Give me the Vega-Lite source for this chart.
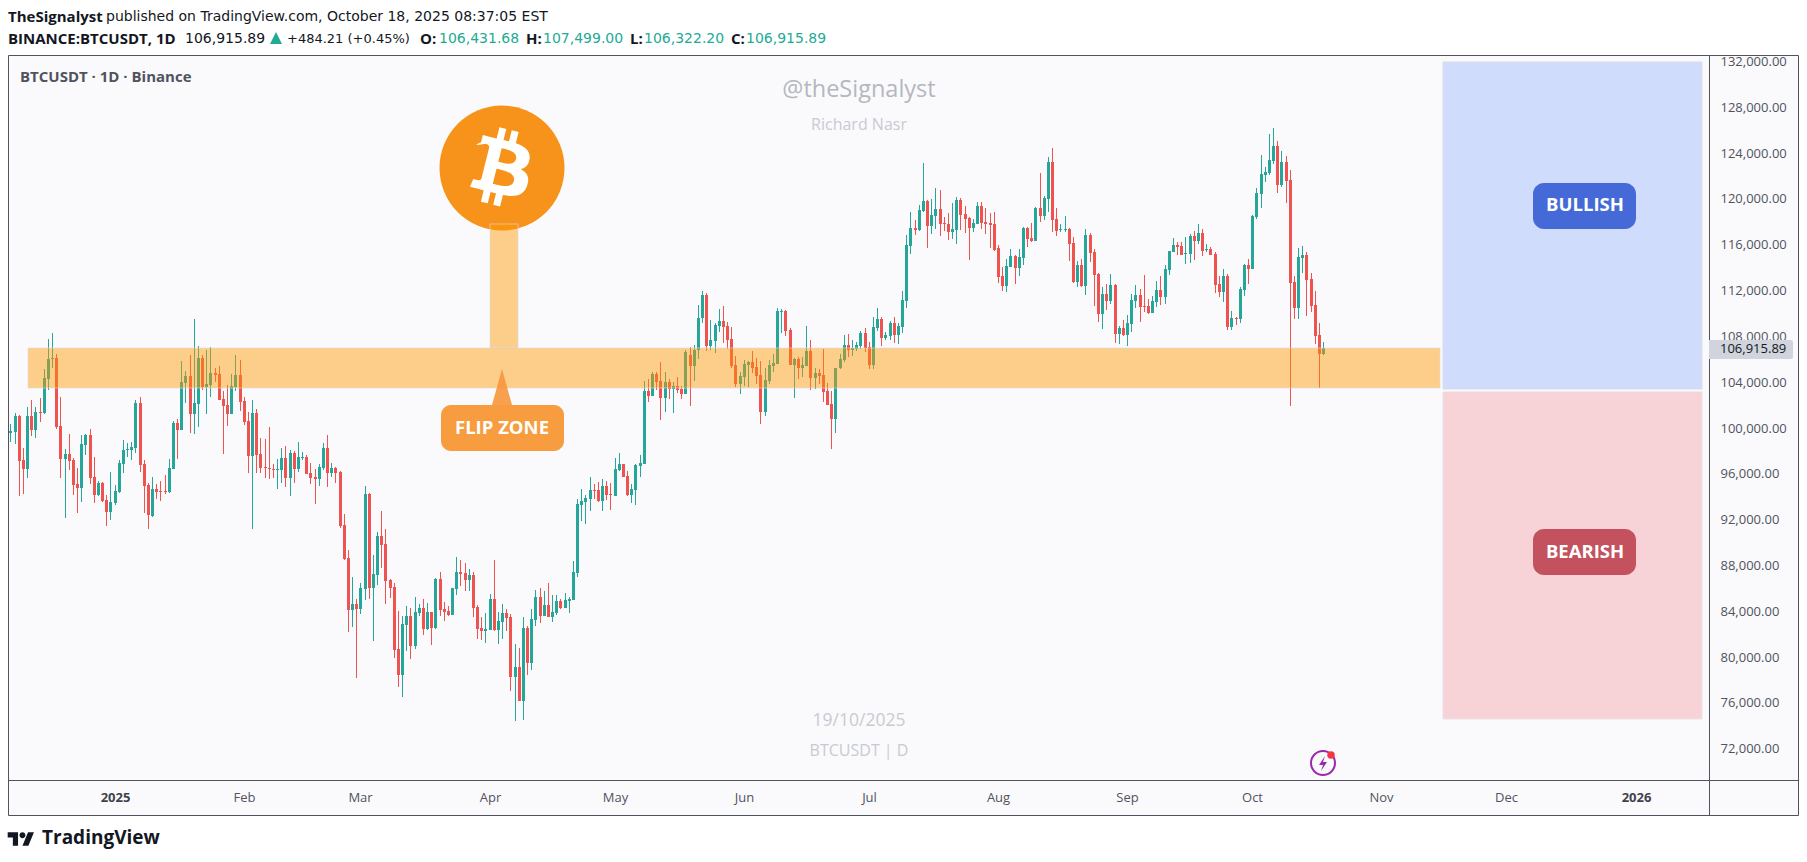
{"$schema":"https://vega.github.io/schema/vega-lite/v6.json","width":1701,"height":725,"autosize":{"type":"none"},"padding":{"left":8,"top":55,"right":98,"bottom":82},"background":"#fafafc","config":{"view":{"stroke":null},"font":"Open Sans"},
"datasets":{"candles":[
{"d":"2024-12-07","o":99525,"h":100281,"l":98710,"c":99699},
{"d":"2024-12-08","o":99612,"h":101242,"l":98564,"c":101009},
{"d":"2024-12-09","o":101009,"h":101096,"l":94025,"c":97080},
{"d":"2024-12-10","o":97168,"h":98215,"l":94199,"c":96382},
{"d":"2024-12-11","o":96382,"h":101765,"l":95596,"c":101009},
{"d":"2024-12-12","o":101009,"h":102405,"l":99263,"c":99787},
{"d":"2024-12-13","o":99787,"h":101765,"l":99088,"c":101358},
{"d":"2024-12-14","o":101358,"h":102580,"l":100485,"c":101300},
{"d":"2024-12-15","o":101271,"h":105112,"l":101183,"c":104326},
{"d":"2024-12-16","o":104239,"h":107731,"l":103278,"c":105985},
{"d":"2024-12-17","o":106014,"h":108255,"l":105199,"c":106072},
{"d":"2024-12-18","o":106072,"h":106421,"l":99874,"c":100048},
{"d":"2024-12-19","o":100136,"h":102668,"l":95596,"c":97255},
{"d":"2024-12-20","o":97255,"h":98128,"l":92104,"c":97691},
{"d":"2024-12-21","o":97691,"h":99437,"l":96295,"c":97080},
{"d":"2024-12-22","o":97168,"h":97342,"l":94112,"c":94985},
{"d":"2024-12-23","o":95072,"h":96440,"l":92512,"c":94723},
{"d":"2024-12-24","o":94723,"h":99350,"l":93501,"c":98564},
{"d":"2024-12-25","o":98477,"h":99437,"l":97604,"c":99350},
{"d":"2024-12-26","o":99350,"h":99874,"l":95072,"c":95596},
{"d":"2024-12-27","o":95683,"h":97429,"l":93414,"c":94112},
{"d":"2024-12-28","o":94112,"h":95334,"l":94025,"c":95160},
{"d":"2024-12-29","o":95160,"h":95247,"l":93501,"c":93588},
{"d":"2024-12-30","o":93676,"h":94112,"l":91435,"c":92657},
{"d":"2024-12-31","o":92657,"h":96120,"l":91930,"c":93501},
{"d":"2025-01-01","o":93414,"h":94985,"l":93239,"c":94461},
{"d":"2025-01-02","o":94374,"h":97168,"l":94287,"c":96906},
{"d":"2025-01-03","o":96818,"h":98914,"l":96033,"c":98041},
{"d":"2025-01-04","o":98041,"h":98652,"l":97429,"c":98128},
{"d":"2025-01-05","o":98041,"h":98739,"l":97168,"c":98302},
{"d":"2025-01-06","o":98215,"h":102405,"l":97779,"c":102144},
{"d":"2025-01-07","o":102144,"h":102668,"l":96120,"c":96731},
{"d":"2025-01-08","o":96818,"h":97168,"l":92541,"c":94898},
{"d":"2025-01-09","o":94985,"h":95160,"l":91144,"c":92366},
{"d":"2025-01-10","o":92279,"h":95683,"l":92191,"c":94636},
{"d":"2025-01-11","o":94636,"h":95072,"l":93763,"c":94374},
{"d":"2025-01-12","o":94461,"h":95334,"l":93588,"c":94374},
{"d":"2025-01-13","o":94461,"h":95858,"l":94228,"c":94403},
{"d":"2025-01-14","o":94374,"h":97255,"l":94287,"c":96469},
{"d":"2025-01-15","o":96382,"h":100572,"l":96382,"c":100398},
{"d":"2025-01-16","o":100398,"h":100747,"l":97255,"c":99786},
{"d":"2025-01-17","o":99786,"h":105810,"l":99786,"c":103977},
{"d":"2025-01-18","o":103890,"h":104937,"l":102144,"c":104501},
{"d":"2025-01-19","o":104501,"h":106334,"l":99525,"c":101183},
{"d":"2025-01-20","o":101183,"h":109477,"l":99437,"c":102144},
{"d":"2025-01-21","o":102056,"h":107120,"l":100048,"c":106072},
{"d":"2025-01-22","o":106072,"h":106334,"l":103279,"c":103540},
{"d":"2025-01-23","o":103540,"h":106770,"l":101183,"c":103802},
{"d":"2025-01-24","o":103715,"h":107032,"l":102667,"c":104763},
{"d":"2025-01-25","o":104763,"h":105199,"l":103977,"c":104588},
{"d":"2025-01-26","o":104675,"h":105374,"l":102406,"c":102406},
{"d":"2025-01-27","o":102493,"h":103191,"l":97691,"c":101882},
{"d":"2025-01-28","o":101969,"h":103715,"l":100136,"c":101183},
{"d":"2025-01-29","o":101183,"h":104675,"l":101183,"c":103628},
{"d":"2025-01-30","o":103540,"h":106334,"l":103191,"c":104588},
{"d":"2025-01-31","o":104588,"h":105897,"l":101445,"c":102231},
{"d":"2025-02-01","o":102318,"h":102667,"l":100223,"c":100485},
{"d":"2025-02-02","o":100572,"h":101358,"l":96033,"c":97517},
{"d":"2025-02-03","o":97517,"h":102406,"l":91144,"c":101271},
{"d":"2025-02-04","o":101271,"h":101620,"l":96033,"c":97604},
{"d":"2025-02-05","o":97691,"h":99088,"l":96033,"c":96469},
{"d":"2025-02-06","o":96556,"h":99001,"l":95596,"c":96469},
{"d":"2025-02-07","o":96469,"h":100048,"l":95509,"c":96382},
{"d":"2025-02-08","o":96382,"h":96818,"l":95596,"c":96294},
{"d":"2025-02-09","o":96294,"h":97255,"l":94636,"c":96382},
{"d":"2025-02-10","o":96294,"h":98215,"l":95160,"c":97342},
{"d":"2025-02-11","o":97342,"h":98390,"l":94810,"c":95596},
{"d":"2025-02-12","o":95596,"h":98040,"l":94025,"c":97779},
{"d":"2025-02-13","o":97779,"h":97953,"l":95160,"c":96382},
{"d":"2025-02-14","o":96382,"h":98739,"l":96120,"c":97429},
{"d":"2025-02-15","o":97342,"h":97866,"l":97168,"c":97429},
{"d":"2025-02-16","o":97429,"h":97604,"l":95945,"c":95945},
{"d":"2025-02-17","o":96033,"h":96906,"l":95072,"c":95596},
{"d":"2025-02-18","o":95683,"h":96382,"l":93326,"c":95509},
{"d":"2025-02-19","o":95509,"h":96818,"l":94898,"c":96556},
{"d":"2025-02-20","o":96469,"h":98652,"l":96294,"c":98215},
{"d":"2025-02-21","o":98215,"h":99350,"l":94810,"c":96033},
{"d":"2025-02-22","o":96033,"h":96906,"l":95683,"c":96469},
{"d":"2025-02-23","o":96469,"h":96556,"l":95160,"c":96033},
{"d":"2025-02-24","o":96120,"h":96207,"l":91231,"c":91406},
{"d":"2025-02-25","o":91493,"h":92453,"l":88437,"c":88525},
{"d":"2025-02-26","o":88612,"h":89310,"l":82151,"c":84072},
{"d":"2025-02-27","o":84072,"h":86953,"l":82588,"c":84596},
{"d":"2025-02-28","o":84596,"h":85032,"l":78136,"c":84159},
{"d":"2025-03-01","o":84159,"h":86429,"l":83723,"c":85993},
{"d":"2025-03-02","o":85905,"h":94897,"l":84945,"c":94199},
{"d":"2025-03-03","o":94199,"h":94286,"l":85032,"c":85993},
{"d":"2025-03-04","o":85993,"h":88873,"l":81366,"c":87215},
{"d":"2025-03-05","o":87127,"h":90881,"l":86254,"c":90532},
{"d":"2025-03-06","o":90532,"h":92715,"l":87739,"c":89746},
{"d":"2025-03-07","o":89834,"h":91143,"l":84596,"c":86604},
{"d":"2025-03-08","o":86691,"h":86778,"l":85120,"c":85993},
{"d":"2025-03-09","o":86080,"h":86429,"l":79882,"c":80580},
{"d":"2025-03-10","o":80667,"h":83985,"l":77350,"c":78397},
{"d":"2025-03-11","o":78397,"h":83548,"l":76477,"c":82850},
{"d":"2025-03-12","o":82762,"h":84421,"l":80493,"c":83548},
{"d":"2025-03-13","o":83548,"h":84247,"l":79794,"c":80929},
{"d":"2025-03-14","o":80929,"h":85207,"l":80667,"c":83897},
{"d":"2025-03-15","o":83810,"h":84596,"l":83548,"c":84247},
{"d":"2025-03-16","o":84247,"h":85032,"l":81889,"c":82413},
{"d":"2025-03-17","o":82413,"h":84683,"l":82326,"c":83897},
{"d":"2025-03-18","o":83897,"h":83897,"l":81017,"c":82501},
{"d":"2025-03-19","o":82501,"h":86866,"l":82413,"c":86778},
{"d":"2025-03-20","o":86778,"h":87389,"l":83548,"c":84072},
{"d":"2025-03-21","o":84159,"h":84770,"l":83112,"c":83897},
{"d":"2025-03-22","o":83985,"h":84421,"l":83548,"c":83635},
{"d":"2025-03-23","o":83635,"h":85993,"l":83635,"c":85993},
{"d":"2025-03-24","o":85905,"h":88699,"l":85381,"c":87389},
{"d":"2025-03-25","o":87389,"h":88437,"l":86167,"c":87215},
{"d":"2025-03-26","o":87302,"h":88175,"l":85731,"c":86691},
{"d":"2025-03-27","o":86691,"h":87651,"l":85731,"c":87127},
{"d":"2025-03-28","o":87127,"h":87389,"l":83461,"c":84247},
{"d":"2025-03-29","o":84334,"h":84509,"l":81540,"c":82413},
{"d":"2025-03-30","o":82501,"h":83461,"l":81453,"c":82239},
{"d":"2025-03-31","o":82239,"h":83810,"l":81191,"c":82413},
{"d":"2025-04-01","o":82326,"h":85469,"l":82326,"c":85032},
{"d":"2025-04-02","o":85032,"h":88437,"l":82239,"c":82326},
{"d":"2025-04-03","o":82326,"h":83897,"l":81104,"c":83112},
{"d":"2025-04-04","o":83024,"h":84596,"l":81540,"c":83810},
{"d":"2025-04-05","o":83810,"h":84159,"l":82239,"c":83373},
{"d":"2025-04-06","o":83461,"h":83723,"l":77001,"c":78223},
{"d":"2025-04-07","o":78223,"h":81104,"l":74382,"c":79096},
{"d":"2025-04-08","o":79096,"h":80755,"l":76128,"c":76128},
{"d":"2025-04-09","o":76128,"h":83461,"l":74469,"c":82501},
{"d":"2025-04-10","o":82501,"h":82675,"l":78398,"c":79445},
{"d":"2025-04-11","o":79445,"h":84159,"l":78834,"c":83286},
{"d":"2025-04-12","o":83199,"h":85818,"l":82675,"c":85207},
{"d":"2025-04-13","o":85207,"h":85993,"l":82937,"c":83548},
{"d":"2025-04-14","o":83548,"h":85731,"l":83548,"c":84508},
{"d":"2025-04-15","o":84508,"h":86429,"l":83461,"c":83461},
{"d":"2025-04-16","o":83461,"h":85381,"l":83024,"c":83897},
{"d":"2025-04-17","o":83810,"h":85381,"l":83636,"c":84858},
{"d":"2025-04-18","o":84858,"h":85032,"l":84159,"c":84247},
{"d":"2025-04-19","o":84247,"h":85556,"l":84247,"c":84945},
{"d":"2025-04-20","o":84858,"h":85207,"l":83810,"c":85032},
{"d":"2025-04-21","o":84945,"h":88350,"l":84945,"c":87389},
{"d":"2025-04-22","o":87302,"h":93762,"l":86953,"c":93326},
{"d":"2025-04-23","o":93238,"h":94635,"l":91842,"c":93588},
{"d":"2025-04-24","o":93500,"h":94112,"l":91580,"c":93850},
{"d":"2025-04-25","o":93762,"h":95683,"l":92715,"c":94548},
{"d":"2025-04-26","o":94548,"h":95072,"l":93762,"c":94461},
{"d":"2025-04-27","o":94548,"h":95247,"l":93500,"c":93588},
{"d":"2025-04-28","o":93588,"h":95508,"l":92715,"c":94897},
{"d":"2025-04-29","o":94897,"h":95334,"l":93675,"c":94112},
{"d":"2025-04-30","o":94199,"h":95159,"l":92802,"c":94112},
{"d":"2025-05-01","o":94024,"h":97342,"l":94024,"c":96381},
{"d":"2025-05-02","o":96294,"h":97778,"l":96207,"c":96818},
{"d":"2025-05-03","o":96818,"h":96818,"l":95683,"c":95683},
{"d":"2025-05-04","o":95770,"h":96207,"l":94024,"c":94112},
{"d":"2025-05-05","o":94112,"h":95072,"l":93413,"c":94635},
{"d":"2025-05-06","o":94548,"h":96818,"l":93238,"c":96730},
{"d":"2025-05-07","o":96643,"h":97604,"l":95683,"c":96905},
{"d":"2025-05-08","o":96818,"h":104064,"l":96818,"c":103191},
{"d":"2025-05-09","o":103191,"h":104238,"l":102230,"c":102754},
{"d":"2025-05-10","o":102754,"h":104849,"l":102754,"c":104675},
{"d":"2025-05-11","o":104675,"h":104849,"l":103278,"c":103976},
{"d":"2025-05-12","o":104064,"h":105722,"l":100659,"c":102580},
{"d":"2025-05-13","o":102580,"h":104849,"l":101357,"c":103976},
{"d":"2025-05-14","o":103976,"h":104238,"l":102492,"c":103365},
{"d":"2025-05-15","o":103365,"h":103976,"l":101270,"c":103627},
{"d":"2025-05-16","o":103627,"h":104413,"l":103016,"c":103278},
{"d":"2025-05-17","o":103365,"h":103627,"l":102492,"c":102929},
{"d":"2025-05-18","o":102929,"h":106771,"l":102929,"c":106596},
{"d":"2025-05-19","o":106334,"h":107032,"l":101882,"c":105374},
{"d":"2025-05-20","o":105374,"h":107207,"l":104064,"c":106771},
{"d":"2025-05-21","o":106771,"h":110699,"l":105985,"c":109564},
{"d":"2025-05-22","o":109564,"h":111921,"l":109128,"c":111572},
{"d":"2025-05-23","o":111572,"h":111747,"l":106683,"c":107120},
{"d":"2025-05-24","o":107120,"h":109390,"l":106771,"c":107644},
{"d":"2025-05-25","o":107556,"h":109128,"l":106509,"c":108953},
{"d":"2025-05-26","o":108866,"h":110350,"l":108342,"c":109302},
{"d":"2025-05-27","o":109302,"h":110612,"l":107382,"c":108778},
{"d":"2025-05-28","o":108866,"h":109215,"l":106858,"c":107644},
{"d":"2025-05-29","o":107731,"h":108778,"l":105199,"c":105374},
{"d":"2025-05-30","o":105461,"h":106247,"l":103540,"c":103802},
{"d":"2025-05-31","o":103802,"h":104850,"l":102929,"c":104501},
{"d":"2025-06-01","o":104413,"h":105897,"l":103628,"c":105548},
{"d":"2025-06-02","o":105461,"h":105810,"l":103540,"c":105723},
{"d":"2025-06-03","o":105723,"h":106683,"l":104763,"c":105199},
{"d":"2025-06-04","o":105286,"h":106072,"l":103802,"c":104501},
{"d":"2025-06-05","o":104588,"h":105810,"l":100310,"c":101358},
{"d":"2025-06-06","o":101358,"h":105199,"l":101009,"c":104151},
{"d":"2025-06-07","o":104064,"h":105897,"l":103802,"c":105461},
{"d":"2025-06-08","o":105374,"h":106421,"l":104850,"c":105636},
{"d":"2025-06-09","o":105548,"h":110437,"l":105548,"c":110175},
{"d":"2025-06-10","o":110088,"h":110350,"l":108255,"c":110175},
{"d":"2025-06-11","o":110175,"h":110262,"l":107993,"c":108429},
{"d":"2025-06-12","o":108517,"h":108691,"l":105461,"c":105461},
{"d":"2025-06-13","o":105461,"h":106072,"l":102580,"c":105985},
{"d":"2025-06-14","o":105985,"h":106159,"l":104239,"c":105199},
{"d":"2025-06-15","o":105199,"h":106159,"l":104413,"c":105461},
{"d":"2025-06-16","o":105374,"h":108866,"l":105374,"c":106683},
{"d":"2025-06-17","o":106683,"h":107644,"l":103279,"c":104326},
{"d":"2025-06-18","o":104326,"h":105199,"l":103366,"c":104763},
{"d":"2025-06-19","o":104763,"h":105112,"l":103802,"c":104501},
{"d":"2025-06-20","o":104588,"h":106858,"l":102231,"c":103104},
{"d":"2025-06-21","o":103191,"h":103890,"l":101969,"c":101969},
{"d":"2025-06-22","o":102056,"h":103191,"l":98128,"c":100747},
{"d":"2025-06-23","o":100747,"h":105199,"l":99525,"c":105199},
{"d":"2025-06-24","o":105199,"h":106421,"l":105112,"c":105985},
{"d":"2025-06-25","o":105897,"h":108080,"l":105723,"c":107207},
{"d":"2025-06-26","o":107207,"h":108167,"l":106159,"c":106771},
{"d":"2025-06-27","o":106771,"h":107644,"l":106247,"c":106945},
{"d":"2025-06-28","o":106858,"h":107469,"l":106683,"c":107207},
{"d":"2025-06-29","o":107120,"h":108429,"l":106858,"c":108255},
{"d":"2025-06-30","o":108255,"h":108691,"l":106596,"c":106945},
{"d":"2025-07-01","o":107032,"h":107469,"l":105112,"c":105461},
{"d":"2025-07-02","o":105461,"h":109651,"l":105112,"c":108778},
{"d":"2025-07-03","o":108691,"h":110437,"l":108429,"c":109477},
{"d":"2025-07-04","o":109477,"h":109651,"l":107120,"c":107818},
{"d":"2025-07-05","o":107818,"h":108342,"l":107644,"c":108080},
{"d":"2025-07-06","o":107993,"h":109302,"l":107644,"c":109128},
{"d":"2025-07-07","o":109128,"h":109651,"l":107382,"c":108080},
{"d":"2025-07-08","o":108080,"h":109128,"l":107294,"c":108866},
{"d":"2025-07-09","o":108778,"h":111921,"l":108255,"c":111136},
{"d":"2025-07-10","o":111048,"h":116810,"l":110437,"c":115937},
{"d":"2025-07-11","o":115850,"h":118818,"l":115151,"c":117421},
{"d":"2025-07-12","o":117421,"h":118120,"l":116810,"c":117247},
{"d":"2025-07-13","o":117247,"h":119429,"l":117159,"c":118993},
{"d":"2025-07-14","o":118905,"h":123096,"l":118818,"c":119778},
{"d":"2025-07-15","o":119778,"h":119865,"l":115675,"c":117596},
{"d":"2025-07-16","o":117596,"h":119953,"l":116897,"c":118556},
{"d":"2025-07-17","o":118469,"h":120913,"l":117334,"c":119080},
{"d":"2025-07-18","o":119080,"h":120738,"l":116723,"c":117770},
{"d":"2025-07-19","o":117858,"h":118381,"l":117159,"c":117770},
{"d":"2025-07-20","o":117770,"h":118731,"l":116373,"c":117072},
{"d":"2025-07-21","o":117072,"h":119604,"l":116461,"c":117334},
{"d":"2025-07-22","o":117247,"h":120127,"l":116024,"c":119865},
{"d":"2025-07-23","o":119865,"h":120040,"l":117247,"c":118556},
{"d":"2025-07-24","o":118643,"h":119342,"l":116985,"c":118207},
{"d":"2025-07-25","o":118294,"h":118381,"l":114627,"c":117421},
{"d":"2025-07-26","o":117421,"h":118207,"l":117072,"c":117858},
{"d":"2025-07-27","o":117770,"h":119691,"l":117770,"c":119342},
{"d":"2025-07-28","o":119342,"h":119691,"l":117334,"c":117858},
{"d":"2025-07-29","o":117945,"h":119167,"l":116897,"c":117770},
{"d":"2025-07-30","o":117858,"h":118731,"l":115675,"c":117683},
{"d":"2025-07-31","o":117770,"h":118818,"l":115413,"c":115500},
{"d":"2025-08-01","o":115675,"h":115937,"l":112620,"c":113143},
{"d":"2025-08-02","o":113231,"h":114016,"l":111921,"c":112358},
{"d":"2025-08-03","o":112358,"h":114715,"l":111834,"c":114104},
{"d":"2025-08-04","o":114016,"h":115588,"l":114016,"c":114977},
{"d":"2025-08-05","o":114977,"h":115064,"l":112532,"c":113929},
{"d":"2025-08-06","o":113929,"h":115588,"l":113231,"c":114889},
{"d":"2025-08-07","o":114802,"h":117508,"l":114191,"c":117421},
{"d":"2025-08-08","o":117421,"h":117508,"l":115762,"c":116460},
{"d":"2025-08-09","o":116548,"h":117857,"l":116198,"c":116286},
{"d":"2025-08-10","o":116286,"h":119254,"l":116286,"c":119167},
{"d":"2025-08-11","o":119167,"h":122222,"l":117944,"c":118468},
{"d":"2025-08-12","o":118468,"h":120214,"l":118119,"c":120040},
{"d":"2025-08-13","o":119952,"h":123619,"l":118817,"c":123182},
{"d":"2025-08-14","o":123182,"h":124405,"l":117071,"c":118119},
{"d":"2025-08-15","o":118206,"h":119167,"l":116722,"c":117159},
{"d":"2025-08-16","o":117246,"h":117770,"l":117071,"c":117333},
{"d":"2025-08-17","o":117246,"h":118468,"l":117071,"c":117333},
{"d":"2025-08-18","o":117333,"h":117421,"l":114540,"c":116024},
{"d":"2025-08-19","o":116111,"h":116635,"l":112619,"c":112706},
{"d":"2025-08-20","o":112706,"h":114540,"l":112270,"c":114190},
{"d":"2025-08-21","o":114190,"h":114714,"l":112270,"c":112357},
{"d":"2025-08-22","o":112357,"h":117333,"l":111571,"c":116810},
{"d":"2025-08-23","o":116810,"h":116984,"l":114452,"c":115238},
{"d":"2025-08-24","o":115325,"h":115587,"l":110611,"c":113318},
{"d":"2025-08-25","o":113405,"h":113492,"l":109214,"c":109913},
{"d":"2025-08-26","o":109913,"h":112270,"l":108603,"c":111659},
{"d":"2025-08-27","o":111659,"h":112532,"l":110262,"c":111048},
{"d":"2025-08-28","o":111048,"h":113405,"l":110786,"c":112444},
{"d":"2025-08-29","o":112444,"h":112532,"l":107381,"c":108167},
{"d":"2025-08-30","o":108167,"h":108865,"l":107294,"c":108691},
{"d":"2025-08-31","o":108691,"h":109389,"l":107992,"c":108079},
{"d":"2025-09-01","o":108079,"h":109826,"l":107119,"c":109127},
{"d":"2025-09-02","o":109040,"h":111659,"l":108341,"c":111135},
{"d":"2025-09-03","o":111048,"h":112444,"l":110437,"c":111571},
{"d":"2025-09-04","o":111571,"h":112095,"l":109214,"c":110524},
{"d":"2025-09-05","o":110611,"h":113318,"l":110087,"c":110524},
{"d":"2025-09-06","o":110611,"h":111222,"l":109913,"c":110000},
{"d":"2025-09-07","o":110000,"h":111484,"l":110000,"c":111048},
{"d":"2025-09-08","o":110960,"h":112794,"l":110524,"c":112008},
{"d":"2025-09-09","o":112008,"h":113230,"l":110698,"c":111397},
{"d":"2025-09-10","o":111397,"h":114190,"l":110786,"c":113841},
{"d":"2025-09-11","o":113754,"h":115413,"l":113318,"c":115413},
{"d":"2025-09-12","o":115325,"h":116548,"l":115325,"c":115936},
{"d":"2025-09-13","o":115936,"h":116198,"l":115063,"c":115762},
{"d":"2025-09-14","o":115849,"h":116198,"l":115063,"c":115063},
{"d":"2025-09-15","o":115151,"h":116635,"l":114278,"c":115238},
{"d":"2025-09-16","o":115151,"h":116897,"l":114365,"c":116722},
{"d":"2025-09-17","o":116722,"h":117159,"l":114627,"c":116286},
{"d":"2025-09-18","o":116286,"h":117770,"l":116024,"c":116985},
{"d":"2025-09-19","o":116985,"h":117334,"l":114977,"c":115413},
{"d":"2025-09-20","o":115501,"h":116024,"l":115326,"c":115588},
{"d":"2025-09-21","o":115588,"h":115762,"l":115064,"c":115064},
{"d":"2025-09-22","o":115151,"h":115326,"l":111747,"c":112445},
{"d":"2025-09-23","o":112532,"h":113231,"l":111397,"c":111834},
{"d":"2025-09-24","o":111834,"h":113842,"l":110961,"c":113231},
{"d":"2025-09-25","o":113231,"h":113405,"l":108516,"c":108778},
{"d":"2025-09-26","o":108778,"h":110175,"l":108516,"c":109564},
{"d":"2025-09-27","o":109564,"h":109651,"l":108953,"c":109477},
{"d":"2025-09-28","o":109477,"h":112270,"l":109128,"c":112096},
{"d":"2025-09-29","o":112008,"h":114278,"l":111485,"c":114191},
{"d":"2025-09-30","o":114191,"h":114715,"l":112532,"c":113842},
{"d":"2025-10-01","o":113842,"h":118556,"l":113842,"c":118469},
{"d":"2025-10-02","o":118381,"h":120913,"l":118207,"c":120477},
{"d":"2025-10-03","o":120389,"h":123794,"l":119167,"c":122135},
{"d":"2025-10-04","o":122048,"h":122746,"l":121437,"c":122310},
{"d":"2025-10-05","o":122223,"h":125627,"l":122048,"c":123357},
{"d":"2025-10-06","o":123270,"h":126151,"l":123008,"c":124580},
{"d":"2025-10-07","o":124580,"h":125016,"l":120477,"c":121175},
{"d":"2025-10-08","o":121175,"h":124143,"l":121000,"c":123183},
{"d":"2025-10-09","o":123183,"h":123707,"l":119604,"c":121524},
{"d":"2025-10-10","o":121612,"h":122485,"l":101882,"c":112620},
{"d":"2025-10-11","o":112707,"h":113231,"l":109477,"c":110437},
{"d":"2025-10-12","o":110437,"h":115675,"l":109477,"c":114889},
{"d":"2025-10-13","o":114802,"h":115850,"l":113493,"c":115064},
{"d":"2025-10-14","o":115064,"h":115326,"l":109739,"c":112881},
{"d":"2025-10-15","o":112969,"h":113493,"l":110088,"c":110612},
{"d":"2025-10-16","o":110699,"h":111921,"l":107295,"c":107993},
{"d":"2025-10-17","o":108080,"h":109128,"l":103453,"c":106432},
{"d":"2025-10-18","o":106431.68,"h":107499,"l":106322.2,"c":106915.89}
]},
"layer":[
{"data":{"values":[{"d":"2024-12-01","d2":"2026-03-01","p":132524,"p2":140000},{"d":"2024-12-01","d2":"2026-03-01","p":66176,"p2":60000},{"d":"2024-12-01","d2":"2024-12-06T10:30:00Z","p":60000,"p2":140000},{"d":"2026-02-09","d2":"2026-03-01","p":60000,"p2":140000}]},
"mark":{"type":"rect","fill":"#ffffff"},
"encoding":{"x":{"field":"d","type":"temporal","title":null,"scale":{"type":"utc","domain":["2024-12-06T10:30:00Z","2026-01-18T15:00:00Z"],"round":true,"padding":0},
"axis":{"orient":"bottom","title":null,"grid":false,"domain":false,"ticks":false,"labelOverlap":false,"labelFlush":false,"labelBaseline":"middle","labelPadding":17,"labelFont":"Open Sans","labelFontSize":13,"labelColor":{"condition":{"test":"utcmonth(datum.value)==0","value":"#3f424c"},"value":"#50535e"},"labelFontWeight":{"condition":{"test":"utcmonth(datum.value)==0","value":"bold"},"value":"normal"},
"values":[{"year":2025,"month":1,"date":1,"utc":true},{"year":2025,"month":2,"date":1,"utc":true},{"year":2025,"month":3,"date":1,"utc":true},{"year":2025,"month":4,"date":1,"utc":true},{"year":2025,"month":5,"date":1,"utc":true},{"year":2025,"month":6,"date":1,"utc":true},{"year":2025,"month":7,"date":1,"utc":true},{"year":2025,"month":8,"date":1,"utc":true},{"year":2025,"month":9,"date":1,"utc":true},{"year":2025,"month":10,"date":1,"utc":true},{"year":2025,"month":11,"date":1,"utc":true},{"year":2025,"month":12,"date":1,"utc":true},{"year":2026,"month":1,"date":1,"utc":true}],
"labelExpr":"utcmonth(datum.value)==0 ? utcFormat(datum.value,'%Y') : utcFormat(datum.value,'%b')"}},
"x2":{"field":"d2"},
"y":{"field":"p","type":"quantitative","title":null,"scale":{"domain":[69233,132524],"zero":false,"nice":false,"round":true,"padding":0},
"axis":{"orient":"right","title":null,"grid":false,"domain":false,"ticks":false,"labelAlign":"left","labelBaseline":"middle","labelPadding":11,"labelFont":"Open Sans","labelFontSize":13,"labelColor":"#50535e","labelOverlap":false,"labelFlush":false,"format":",.2f","values":[72000,76000,80000,84000,88000,92000,96000,100000,104000,108000,112000,116000,120000,124000,128000,132000]}},
"y2":{"field":"p2"}}},
{"data":{"values":[{"d":"2025-11-15T19:00:00Z","d2":"2026-01-16T22:00:00Z","p":131913,"p2":103339,"zone":"bullish"}]},"mark":{"type":"rect","fill":"#d0dcfc","stroke":"#d9dde8","strokeWidth":1},"encoding":{"x":{"field":"d","type":"temporal"},"x2":{"field":"d2"},"y":{"field":"p","type":"quantitative"},"y2":{"field":"p2"}}},
{"data":{"values":[{"d":"2025-11-15T19:00:00Z","d2":"2026-01-16T22:00:00Z","p":103078,"p2":74530,"zone":"bearish"}]},"mark":{"type":"rect","fill":"#f7d3d8","stroke":"#e8dfe6","strokeWidth":1},"encoding":{"x":{"field":"d","type":"temporal"},"x2":{"field":"d2"},"y":{"field":"p","type":"quantitative"},"y2":{"field":"p2"}}},
{"data":{"name":"candles"},"mark":{"type":"rule","strokeWidth":1,"xOffset":0.5,"x2Offset":0.5},"encoding":{"x":{"field":"d","type":"temporal"},"y":{"field":"l","type":"quantitative"},"y2":{"field":"h"},"color":{"condition":{"test":"datum.c>=datum.o","value":"#26a69a"},"value":"#ef5350"}}},
{"data":{"name":"candles"},"mark":{"type":"bar","size":3,"xOffset":0.5},"encoding":{"x":{"field":"d","type":"temporal"},"y":{"field":"o","type":"quantitative"},"y2":{"field":"c"},"color":{"condition":{"test":"datum.c>=datum.o","value":"#26a69a"},"value":"#ef5350"}}},
{"data":{"values":[{"d":"2025-04-03T22:00:00Z","p":122633}]},"mark":{"type":"point","shape":"circle","filled":true,"size":15625,"color":"#f7931a","opacity":1},"encoding":{"x":{"field":"d","type":"temporal"},"y":{"field":"p","type":"quantitative"}}},
{"data":{"values":[{"d":"2025-04-03T22:00:00Z","p":122633}]},"mark":{"type":"point","shape":"M14.11 -4.559c.636-4.258-2.606-6.547-7.039-8.074l1.438-5.768-3.512-.875-1.4 5.616c-.922-.23-1.87-.447-2.812-.662l1.41-5.653-3.509-.875-1.439 5.766c-.764-.174-1.514-.346-2.242-.527l.004-.018-4.842-1.209-.934 3.75s2.605.597 2.55.634c1.422.355 1.68 1.296 1.636 2.042l-1.638 6.571c.098.025.225.061.365.117l-.37-.092-2.297 9.205c-.174.432-.615 1.08-1.609.834.035.051-2.552-.637-2.552-.637l-1.743 4.02 4.57 1.139c.85.213 1.683.436 2.502.646l-1.453 5.835 3.507.875 1.44-5.772c.957.26 1.887.5 2.797.726L-4.496 18.8l3.511.875 1.453-5.823c5.987 1.133 10.49.676 12.383-4.738 1.527-4.36-.075-6.875-3.225-8.516 2.294-.531 4.022-2.04 4.483-5.157zM6.087 6.69c-1.086 4.36-8.426 2.004-10.807 1.412l1.928-7.729c2.38.594 10.011 1.77 8.88 6.317zm1.085-11.312c-.99 3.966-7.1 1.951-9.083 1.457l1.748-7.01c1.983.494 8.367 1.416 7.335 5.553z","filled":true,"size":15.26,"color":"#ffffff","opacity":1},"encoding":{"x":{"field":"d","type":"temporal"},"y":{"field":"p","type":"quantitative"}}},
{"data":{"values":[{"d":"2025-04-01T01:00:00Z","d2":"2025-04-07T22:00:00Z","p":117770,"p2":106916},{"d":"2024-12-11T03:00:00Z","d2":"2025-11-15","p":106916,"p2":103420}]},"mark":{"type":"rect","fill":"#ff9800","fillOpacity":0.45,"stroke":"#d9dbe3","strokeWidth":1,"strokeOpacity":0.6},"encoding":{"x":{"field":"d","type":"temporal"},"x2":{"field":"d2"},"y":{"field":"p","type":"quantitative"},"y2":{"field":"p2"}}},
{"data":{"values":[{"d":"2025-04-03T22:00:00Z","p":101969}]},"mark":{"type":"point","shape":"M0 -36L10 0L-10 0Z","filled":true,"size":4,"color":"#f7963a","opacity":0.9},"encoding":{"x":{"field":"d","type":"temporal"},"y":{"field":"p","type":"quantitative"}}},
{"data":{"values":[{"d":"2025-03-20T09:00:00Z","d2":"2025-04-18T18:00:00Z","p":101969,"p2":97979}]},"mark":{"type":"rect","fill":"#f79c3f","cornerRadius":10},"encoding":{"x":{"field":"d","type":"temporal"},"x2":{"field":"d2"},"y":{"field":"p","type":"quantitative"},"y2":{"field":"p2"}}},
{"data":{"values":[{"d":"2025-12-07T12:00:00Z","d2":"2026-01-01T02:00:00Z","p":121349,"p2":117360}]},"mark":{"type":"rect","fill":"#4669d8","cornerRadius":11},"encoding":{"x":{"field":"d","type":"temporal"},"x2":{"field":"d2"},"y":{"field":"p","type":"quantitative"},"y2":{"field":"p2"}}},
{"data":{"values":[{"d":"2025-12-07T12:00:00Z","d2":"2026-01-01T02:00:00Z","p":91117,"p2":87128}]},"mark":{"type":"rect","fill":"#c4525e","cornerRadius":11},"encoding":{"x":{"field":"d","type":"temporal"},"x2":{"field":"d2"},"y":{"field":"p","type":"quantitative"},"y2":{"field":"p2"}}},
{"data":{"values":[{"d":"2025-04-03T22:00:00Z","p":99961,"t":"FLIP ZONE"},{"d":"2025-12-19T19:00:00Z","p":119429,"t":"BULLISH"},{"d":"2025-12-19T19:00:00Z","p":89135,"t":"BEARISH"}]},"mark":{"type":"text","font":"Open Sans","fontSize":18.5,"fontWeight":"bold","color":"#ffffff","align":"center","baseline":"middle"},"encoding":{"x":{"field":"d","type":"temporal"},"y":{"field":"p","type":"quantitative"},"text":{"field":"t"}}},
{"data":{"values":[{"d":"2024-12-06T10:30:00Z","d2":"2026-02-09","p":132524,"p2":66176}]},"mark":{"type":"rect","fill":"transparent","stroke":"#50535e","strokeWidth":1,"xOffset":0.5,"x2Offset":0.5,"yOffset":0.5,"y2Offset":0.5},"encoding":{"x":{"field":"d","type":"temporal"},"x2":{"field":"d2"},"y":{"field":"p","type":"quantitative"},"y2":{"field":"p2"}}},
{"data":{"values":[{"d":"2024-12-06T10:30:00Z","d2":"2026-02-09","p":69233,"p2":69233},{"d":"2026-01-18T15:00:00Z","d2":"2026-01-18T15:00:00Z","p":132524,"p2":66176}]},"mark":{"type":"rule","stroke":"#50535e","strokeWidth":1,"xOffset":0.5,"x2Offset":0.5,"yOffset":0.5,"y2Offset":0.5},"encoding":{"x":{"field":"d","type":"temporal"},"x2":{"field":"d2"},"y":{"field":"p","type":"quantitative"},"y2":{"field":"p2"}}},
{"data":{"values":[{"d":"2026-01-18T15:00:00Z","d2":"2026-02-07T17:00:00Z","p":107643,"p2":105985}]},"mark":{"type":"rect","fill":"#d1d4dc","cornerRadiusTopRight":2,"cornerRadiusBottomRight":2},"encoding":{"x":{"field":"d","type":"temporal"},"x2":{"field":"d2"},"y":{"field":"p","type":"quantitative"},"y2":{"field":"p2"}}},
{"data":{"values":[{"d":"2026-01-21T05:00:00Z","p":106860,"t":"106,915.89"}]},"mark":{"type":"text","font":"Open Sans","fontSize":13,"color":"#131722","align":"left","baseline":"middle"},"encoding":{"x":{"field":"d","type":"temporal"},"y":{"field":"p","type":"quantitative"},"text":{"field":"t"}}},
{"data":{"values":[{"d":"2024-12-06T10:30:00Z","p":135867,"t":"TheSignalyst"},{"d":"2024-12-06T10:30:00Z","p":133947,"t":"BINANCE:BTCUSDT, 1D"},{"d":"2025-03-15T07:00:00Z","p":133947,"t":"O:"},{"d":"2025-04-09T18:00:00Z","p":133947,"t":"H:"},{"d":"2025-05-04T17:00:00Z","p":133947,"t":"L:"},{"d":"2025-05-28T23:00:00Z","p":133947,"t":"C:"}]},"mark":{"type":"text","font":"Open Sans","fontSize":15,"fontWeight":"bold","color":"#131722","align":"left","baseline":"middle"},"encoding":{"x":{"field":"d","type":"temporal"},"y":{"field":"p","type":"quantitative"},"text":{"field":"t"}}},
{"data":{"values":[{"d":"2024-12-29T23:00:00Z","p":135867,"t":"published on TradingView.com, October 18, 2025 08:37:05 EST"},{"d":"2025-01-17T22:00:00Z","p":133947,"t":"106,915.89"}]},"mark":{"type":"text","font":"DejaVu Sans","fontSize":14,"color":"#131722","align":"left","baseline":"middle"},"encoding":{"x":{"field":"d","type":"temporal"},"y":{"field":"p","type":"quantitative"},"text":{"field":"t"}}},
{"data":{"values":[{"d":"2025-02-11T10:00:00Z","p":133947,"t":"+484.21 (+0.45%)"}]},"mark":{"type":"text","font":"DejaVu Sans","fontSize":13,"color":"#131722","align":"left","baseline":"middle"},"encoding":{"x":{"field":"d","type":"temporal"},"y":{"field":"p","type":"quantitative"},"text":{"field":"t"}}},
{"data":{"values":[{"d":"2025-03-19T21:00:00Z","p":133947,"t":"106,431.68"},{"d":"2025-04-13T17:00:00Z","p":133947,"t":"107,499.00"},{"d":"2025-05-07T23:00:00Z","p":133947,"t":"106,322.20"},{"d":"2025-06-01T13:00:00Z","p":133947,"t":"106,915.89"}]},"mark":{"type":"text","font":"DejaVu Sans","fontSize":14,"color":"#22ab94","align":"left","baseline":"middle"},"encoding":{"x":{"field":"d","type":"temporal"},"y":{"field":"p","type":"quantitative"},"text":{"field":"t"}}},
{"data":{"values":[{"d":"2025-02-08T18:00:00Z","p":133980}]},"mark":{"type":"point","shape":"M0 -6L6 6L-6 6Z","filled":true,"size":4,"color":"#22ab94","opacity":1},"encoding":{"x":{"field":"d","type":"temporal"},"y":{"field":"p","type":"quantitative"}}},
{"data":{"values":[{"d":"2024-12-09T05:00:00Z","p":130629,"t":"BTCUSDT · 1D · Binance"}]},"mark":{"type":"text","font":"Open Sans","fontSize":15,"fontWeight":"bold","color":"#50535e","align":"left","baseline":"middle"},"encoding":{"x":{"field":"d","type":"temporal"},"y":{"field":"p","type":"quantitative"},"text":{"field":"t"}}},
{"data":{"values":[{"d":"2025-06-28T16:00:00Z","p":129468,"t":"@theSignalyst"}]},"mark":{"type":"text","font":"Open Sans","fontSize":23.5,"color":"#b4b7c0","align":"center","baseline":"middle"},"encoding":{"x":{"field":"d","type":"temporal"},"y":{"field":"p","type":"quantitative"},"text":{"field":"t"}}},
{"data":{"values":[{"d":"2025-06-28T16:00:00Z","p":126413,"t":"Richard Nasr"},{"d":"2025-06-28T16:00:00Z","p":71763,"t":"BTCUSDT | D"}]},"mark":{"type":"text","font":"Open Sans","fontSize":16,"color":"#c8cad3","align":"center","baseline":"middle"},"encoding":{"x":{"field":"d","type":"temporal"},"y":{"field":"p","type":"quantitative"},"text":{"field":"t"}}},
{"data":{"values":[{"d":"2025-06-28T16:00:00Z","p":74382,"t":"19/10/2025"}]},"mark":{"type":"text","font":"Open Sans","fontSize":17.5,"color":"#c8cad3","align":"center","baseline":"middle"},"encoding":{"x":{"field":"d","type":"temporal"},"y":{"field":"p","type":"quantitative"},"text":{"field":"t"}}},
{"data":{"values":[{"d":"2024-12-14T14:00:00Z","p":64168,"t":"TradingView"}]},"mark":{"type":"text","font":"Open Sans","fontSize":19,"fontWeight":"bold","color":"#131722","align":"left","baseline":"middle"},"encoding":{"x":{"field":"d","type":"temporal"},"y":{"field":"p","type":"quantitative"},"text":{"field":"t"}}},
{"data":{"values":[{"d":"2024-12-09T16:00:00Z","p":64124}]},"mark":{"type":"point","shape":"M-4 9H-11V-2H-18V-9H-4ZM10 9H2L9.5 -9H17.5L10 9ZM6 -5A4 4 0 1 1 -2 -5A4 4 0 1 1 6 -5Z","filled":true,"size":2.19,"color":"#131722","opacity":1},"encoding":{"x":{"field":"d","type":"temporal"},"y":{"field":"p","type":"quantitative"}}},
{"data":{"values":[{"d":"2025-10-18","p":70689}]},"mark":{"type":"point","shape":"circle","filled":false,"size":576,"color":"#9c27b0","strokeWidth":2,"opacity":1},"encoding":{"x":{"field":"d","type":"temporal"},"y":{"field":"p","type":"quantitative"}}},
{"data":{"values":[{"d":"2025-10-18","p":70689}]},"mark":{"type":"point","shape":"M2 -7L-4 2H0L-2 8L4 -1H0Z","filled":true,"size":4,"color":"#9c27b0","opacity":1},"encoding":{"x":{"field":"d","type":"temporal"},"y":{"field":"p","type":"quantitative"}}},
{"data":{"values":[{"d":"2025-10-19T22:00:00Z","p":71414}]},"mark":{"type":"point","shape":"circle","filled":true,"size":56,"color":"#f23645","opacity":1},"encoding":{"x":{"field":"d","type":"temporal"},"y":{"field":"p","type":"quantitative"}}}
]}
